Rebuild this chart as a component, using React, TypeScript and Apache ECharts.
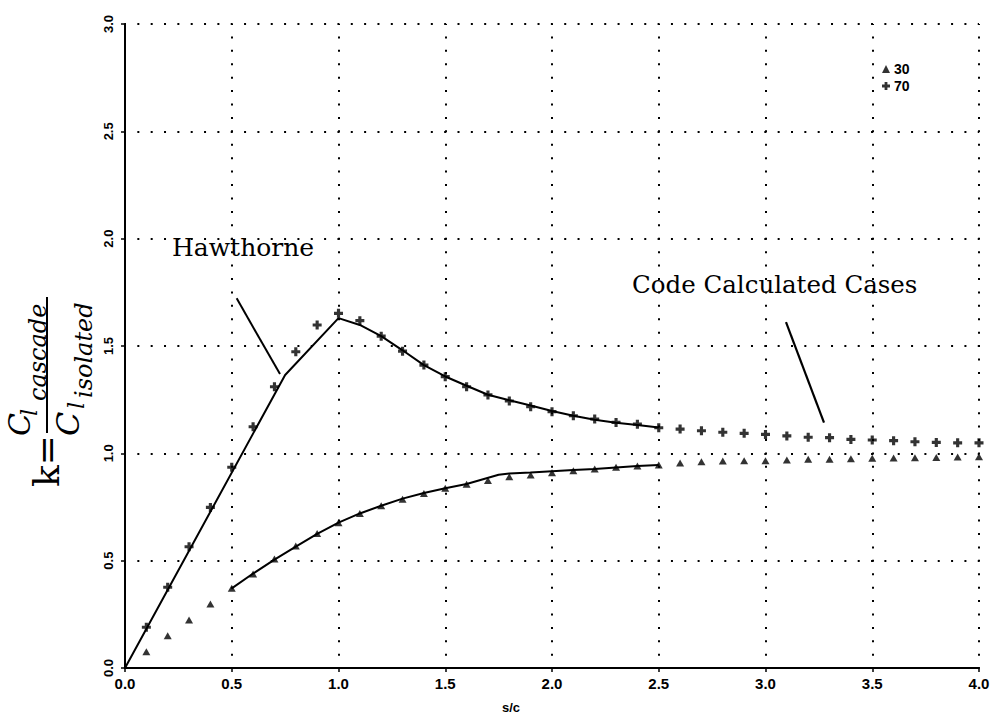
import React, { useEffect, useRef } from "react";
import * as echarts from "echarts";

// s/c positions of the code-calculated cases
const sc = [
  0.1, 0.2, 0.3, 0.4, 0.5, 0.6, 0.7, 0.8, 0.9, 1.0,
  1.1, 1.2, 1.3, 1.4, 1.5, 1.6, 1.7, 1.8, 1.9, 2.0,
  2.1, 2.2, 2.3, 2.4, 2.5, 2.6, 2.7, 2.8, 2.9, 3.0,
  3.1, 3.2, 3.3, 3.4, 3.5, 3.6, 3.7, 3.8, 3.9, 4.0,
];
// stagger 70 (plus markers)
const k70 = [
  0.19, 0.376, 0.565, 0.748, 0.935, 1.124, 1.31, 1.473, 1.598, 1.652,
  1.618, 1.546, 1.476, 1.411, 1.357, 1.31, 1.272, 1.244, 1.217, 1.194,
  1.175, 1.16, 1.144, 1.136, 1.119, 1.113, 1.105, 1.098, 1.093, 1.088,
  1.081, 1.075, 1.073, 1.065, 1.062, 1.059, 1.054, 1.051, 1.049, 1.049,
];
// stagger 30 (triangle markers)
const k30 = [
  0.076, 0.15, 0.224, 0.298, 0.371, 0.438, 0.508, 0.568, 0.627, 0.677,
  0.72, 0.756, 0.786, 0.813, 0.837, 0.856, 0.873, 0.891, 0.899, 0.91,
  0.919, 0.927, 0.935, 0.941, 0.946, 0.955, 0.961, 0.964, 0.966, 0.966,
  0.969, 0.972, 0.973, 0.975, 0.977, 0.978, 0.98, 0.981, 0.983, 0.984,
];
// Hawthorne curves
const hawUpperX = [0, 0.75, 1.0, 1.1, 1.2, 1.3, 1.4, 1.5, 1.6, 1.7, 1.8, 1.9, 2.0, 2.1, 2.2, 2.3, 2.4, 2.5];
const hawUpperY = [0, 1.365, 1.63, 1.598, 1.546, 1.48, 1.411, 1.358, 1.315, 1.273, 1.247, 1.223, 1.197, 1.175, 1.156, 1.143, 1.132, 1.12];
const hawLowerX = [0.5, 0.6, 0.7, 0.8, 0.9, 1.0, 1.1, 1.2, 1.3, 1.4, 1.5, 1.6, 1.75, 1.8, 1.9, 2.0, 2.1, 2.2, 2.3, 2.4, 2.5];
const hawLowerY = [0.371, 0.44, 0.505, 0.565, 0.625, 0.677, 0.72, 0.756, 0.789, 0.815, 0.837, 0.857, 0.9, 0.906, 0.911, 0.917, 0.922, 0.927, 0.934, 0.941, 0.946];
// annotation pointer lines (data coordinates)
const hawPointer = [[0.523, 1.722], [0.726, 1.369]];
const codePointer = [[3.096, 1.611], [3.274, 1.143]];

const xMin = 0, xMax = 4.0, xStep = 0.5;
const yMin = 0, yMax = 3.0, yStep = 0.5;

const legendNames = ["30", "70"];
const labels = { hawthorne: "Hawthorne", code: "Code Calculated Cases", xTitle: "s/c" };

const PLUS = "path://M2.6,0H5.4V2.6H8V5.4H5.4V8H2.6V5.4H0V2.6H2.6Z";

export default function App() {
  const ref = useRef<HTMLDivElement>(null);
  useEffect(() => {
    if (!ref.current) return;
    const chart = echarts.init(ref.current, null, { renderer: "svg" });
    const sans = "Liberation Sans";
    const serif = "DejaVu Serif";
    const zip = (xs: number[], ys: number[]) => xs.map((x, i) => [x, ys[i]]);
    const grid = { left: 125, top: 24, width: 854, height: 644 };

    const option: any = {
      animation: false,
      backgroundColor: "#ffffff",
      grid: { ...grid, containLabel: false },
      legend: {
        data: legendNames,
        orient: "vertical",
        left: 877,
        top: 57,
        itemWidth: 8,
        itemHeight: 8,
        itemGap: 3,
        textStyle: { fontFamily: sans, fontWeight: "bold", fontSize: 14, color: "#000", padding: [0, 0, 0, -1] },
      },
      xAxis: {
        type: "value",
        min: xMin,
        max: xMax,
        interval: xStep,
        axisLine: { show: true, lineStyle: { color: "#000", width: 2 } },
        axisTick: { show: true, length: 4, lineStyle: { color: "#000", width: 1.5 } },
        axisLabel: {
          margin: 8,
          fontFamily: sans,
          fontWeight: "bold",
          fontSize: 15,
          color: "#000",
          formatter: (v: number) => v.toFixed(1),
        },
        splitLine: {
          show: true,
          showMinLine: false,
          showMaxLine: true,
          lineStyle: { color: "#000", width: 2, type: [2, 11.42], dashOffset: 1 },
        },
      },
      yAxis: {
        type: "value",
        min: yMin,
        max: yMax,
        interval: yStep,
        axisLine: { show: true, lineStyle: { color: "#000", width: 2 } },
        axisTick: { show: true, length: 4, lineStyle: { color: "#000", width: 1.5 } },
        axisLabel: {
          margin: 10,
          rotate: 90,
          fontFamily: sans,
          fontWeight: "bold",
          fontSize: 13,
          color: "#000",
          formatter: (v: number) => v.toFixed(1),
        },
        splitLine: {
          show: true,
          showMinLine: false,
          showMaxLine: true,
          lineStyle: { color: "#000", width: 2, type: [2, 11.34], dashOffset: 1 },
        },
      },
      series: [
        {
          name: "hawUpper",
          type: "line",
          data: zip(hawUpperX, hawUpperY),
          showSymbol: false,
          symbol: "none",
          lineStyle: { color: "#000", width: 2 },
          z: 3,
        },
        {
          name: "hawLower",
          type: "line",
          data: zip(hawLowerX, hawLowerY),
          showSymbol: false,
          symbol: "none",
          lineStyle: { color: "#000", width: 2 },
          z: 3,
        },
        {
          name: "hawPointer",
          type: "line",
          data: hawPointer,
          symbol: "none",
          lineStyle: { color: "#000", width: 2 },
          z: 3,
        },
        {
          name: "codePointer",
          type: "line",
          data: codePointer,
          symbol: "none",
          lineStyle: { color: "#000", width: 2.2 },
          z: 3,
        },
        {
          name: "30",
          type: "scatter",
          data: zip(sc, k30),
          symbol: "triangle",
          symbolSize: [8, 7],
          itemStyle: { color: "#000" },
          z: 4,
        },
        {
          name: "70",
          type: "scatter",
          data: zip(sc, k70),
          symbol: PLUS,
          symbolSize: 9,
          itemStyle: { color: "#000" },
          z: 4,
        },
      ],
      graphic: [
        {
          type: "text",
          x: 172,
          y: 247,
          style: { text: labels.hawthorne, font: `25px "${serif}"`, fill: "#000", align: "left", verticalAlign: "middle" },
        },
        {
          type: "text",
          x: 632,
          y: 284,
          style: { text: labels.code, font: `24.5px "${serif}"`, fill: "#000", align: "left", verticalAlign: "middle" },
        },
        {
          type: "text",
          x: 511,
          y: 707,
          style: { text: labels.xTitle, font: `bold 13px "${sans}"`, fill: "#000", align: "center", verticalAlign: "middle" },
        },
        {
          type: "group",
          x: 47,
          y: 433,
          rotation: Math.PI / 2,
          children: [
            { type: "text", x: -2, y: -1, style: { text: "k=", font: `36px "${serif}"`, fill: "#000", align: "right", verticalAlign: "middle" } },
            { type: "line", shape: { x1: 0, y1: 0, x2: 136, y2: 0 }, style: { stroke: "#000", lineWidth: 2 } },
            { type: "text", x: -3, y: -28, style: { text: "C", font: `italic 30px "${serif}"`, fill: "#000", align: "left", verticalAlign: "middle" } },
            { type: "text", x: 17, y: -18, style: { text: "l", font: `italic 22px "${serif}"`, fill: "#000", align: "left", verticalAlign: "middle" } },
            { type: "text", x: 32, y: -9, style: { text: "cascade", font: `italic 24px "${serif}"`, fill: "#000", align: "left", verticalAlign: "middle" } },
            { type: "text", x: -3, y: 21, style: { text: "C", font: `italic 32px "${serif}"`, fill: "#000", align: "left", verticalAlign: "middle" } },
            { type: "text", x: 24, y: 29, style: { text: "l", font: `italic 22px "${serif}"`, fill: "#000", align: "left", verticalAlign: "middle" } },
            { type: "text", x: 35, y: 37, style: { text: "isolated", font: `italic 24px "${serif}"`, fill: "#000", align: "left", verticalAlign: "middle" } },
          ],
        },
      ],
    };
    chart.setOption(option);
    return () => chart.dispose();
  }, []);
  return (
    <div
      ref={ref}
      style={{ position: "fixed", left: 0, top: 0, width: 995, height: 719, background: "#fff" }}
    />
  );
}
